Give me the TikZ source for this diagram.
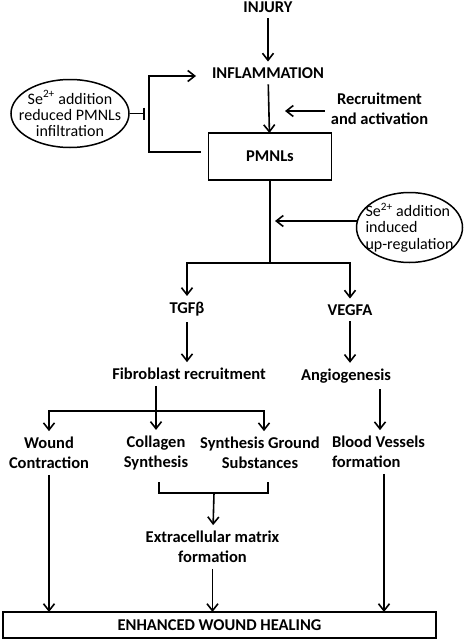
\documentclass[tikz,border=0pt]{standalone}
\usepackage{fontspec}
\setmainfont{Carlito}
\usepackage{tikz}
\usetikzlibrary{shapes,arrows,arrows.meta,positioning}

\begin{document}
\begin{tikzpicture}[x=1pt,y=-1pt]
			\tikzstyle{Label}	= [font=\fontsize{16.5}{20}\selectfont\bfseries, align=center, inner sep=0pt, outer sep=6pt]
			\tikzstyle{Box}		= [Label, draw, line width=1.5pt, outer sep=0pt]
			\tikzstyle{Oval}	= [ellipse, draw, line width=1.5pt, font=\fontsize{16}{16.2}\selectfont, align=center, inner sep=-40pt]
			\tikzstyle{Line}	= [line width=1.6pt]
			\tikzstyle{Link}	= [Line, -{Straight Barb[length=7pt, width=11pt, line width=1.6pt]}]
			\tikzstyle{Block}	= [Line, -{Bar[width=12pt, line width=1.6pt]}]

			\useasboundingbox (0,0) rectangle (472,642);

			% top of the chain
			\node (injury) at (268, 7) [Label] {INJURY};
			\node (inflam) at (268, 73) [Label] {INFLAMMATION};
			\node (recruit) at (379.5, 108.5) [Label] {Recruitment\\and activation};
			\node (pmnl) at (270, 156.5) [Box, minimum width=123pt, minimum height=47pt] {PMNLs};

			% selenium effects
			\node (seleft) at (70, 113.5) [Oval, minimum width=118pt, minimum height=68pt] {Se\textsuperscript{2+} addition\\reduced PMNLs\\infiltration};
			\node (seright) at (409.5, 227.5) [Oval, minimum width=106pt, minimum height=70pt, align=left] {Se\textsuperscript{2+} addition\\induced\\up-regulation};

			% growth factors
			\node (tgf) at (187, 309) [Label] {TGFβ};
			\node (vegfa) at (350, 310) [Label] {VEGFA};
			\node (fibro) at (189, 374) [Label] {Fibroblast recruitment};
			\node (angio) at (346, 376) [Label] {Angiogenesis};

			% outcomes
			\node (wound) at (49, 453) [Label] {Wound\\Contraction};
			\node (collagen) at (156, 453) [Label] {Collagen\\Synthesis};
			\node (ground) at (260, 453) [Label] {Synthesis Ground\\Substances};
			\node (blood) at (378.5, 452) [Label, align=left] {Blood Vessels\\formation};
			\node (ecm) at (212.5, 547) [Label] {Extracellular matrix\\formation};
			\node (heal) at (219.5, 625) [Box, minimum width=433pt, minimum height=26pt] {ENHANCED WOUND HEALING};

			\coordinate (fbtop) at (149, 76);
			\coordinate (fbbot) at (149, 152);
			\coordinate (upreg) at (275, 221);
			\coordinate (split) at (270, 263);
			\coordinate (fsplit) at (156, 411);
			\coordinate (cl) at (159, 482);
			\coordinate (cr) at (268, 482);
			\coordinate (cjoin) at (214, 493);

			\draw [Link] (injury) -- (inflam);
			\draw [Link] (inflam) -- (pmnl);
			\draw [Link] (recruit.west |- 0,111) -- (285, 111);
			\draw [Link] ([xshift=-8pt]pmnl.west |- fbbot) -- (fbbot) -- (fbtop) -- ([xshift=-10pt]inflam.west |- fbtop);
			\draw [Block] (seleft) -- (fbbot |- seleft) [shorten >=4.5pt];

			\draw [Line] (pmnl.south) -- (split);
			\draw [Link] ([xshift=1pt]seright.west |- upreg) -- (upreg);
			\draw [Link] (split) -| (tgf);
			\draw [Link] (split) -| (vegfa);
			\draw [Link] (tgf) -- (tgf |- fibro.north);
			\draw [Link] (vegfa) -- (vegfa |- angio.north);

			\draw [Line] (fibro.south -| fsplit) -- (fsplit);
			\draw [Link] (fsplit) -| (wound);
			\draw [Link] (fsplit) -- (collagen);
			\draw [Link] (fsplit) -| ([xshift=4pt]ground.north);
			\draw [Link] ([xshift=1.5pt]blood.north |- angio.south) -- ([xshift=1.5pt]blood.north);

			\draw [Line] (cl) |- (cjoin) -| (cr);
			\draw [Link] (cjoin) -- (ecm);

			\draw [Link] (wound) -- (wound |- heal.north);
			\draw [Link] (ecm) -- (ecm |- heal.north);
			\draw [Link] ([xshift=5.5pt]blood.south) -- ([xshift=5.5pt]blood.south |- heal.north);
		\end{tikzpicture}
\end{document}
